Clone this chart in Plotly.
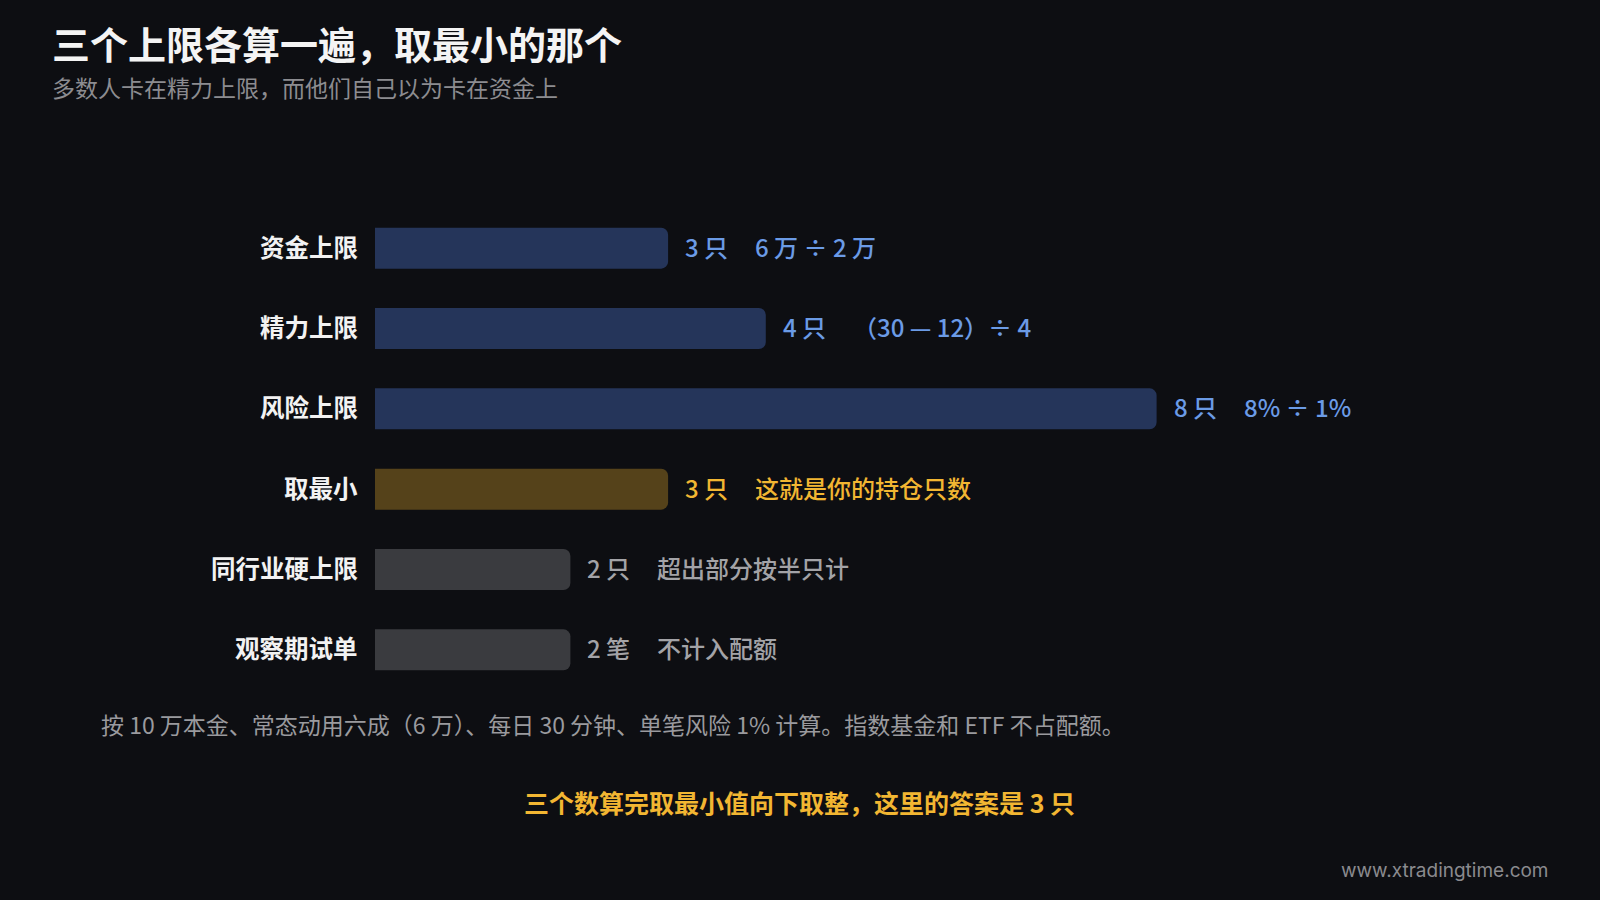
import plotly.graph_objects as go

# ---- data ----
categories = ["资金上限", "精力上限", "风险上限", "取最小", "同行业硬上限", "观察期试单"]
values = [3, 4, 8, 3, 2, 2]
count_labels = ["3 只", "4 只", "8 只", "3 只", "2 只", "2 笔"]
detail_labels = ["6 万 ÷ 2 万", "（30 — 12）÷ 4", "8% ÷ 1%", "这就是你的持仓只数", "超出部分按半只计", "不计入配额"]
groups = ["blue", "blue", "blue", "gold", "gray", "gray"]

title = "三个上限各算一遍，取最小的那个"
subtitle = "多数人卡在精力上限，而他们自己以为卡在资金上"
footnote = "按 10 万本金、常态动用六成（6 万）、每日 30 分钟、单笔风险 1% 计算。指数基金和 ETF 不占配额。"
conclusion = "三个数算完取最小值向下取整，这里的答案是 3 只"
watermark = "www.xtradingtime.com"

# ---- style ----
BG = "#0d0e12"
bar_colors = {"blue": "#25355a", "gold": "#55421a", "gray": "#3a3b3f"}
text_colors = {"blue": "#6b9be6", "gold": "#f2b632", "gray": "#a3a3a7"}
FONT = "Noto Sans CJK SC, Noto Sans, sans-serif"

W_FIG, H_FIG = 1600, 900
L, T = 375, 208
PW, PH = 977, 482
R = W_FIG - L - PW
B = H_FIG - T - PH
YS = 2  # small upward nudge for CJK glyph centering


def px(x):
    return (x - L) / PW


def py(y):
    return 1 - (y - T) / PH


fig = go.Figure()
fig.add_trace(go.Bar(
    x=values, y=categories, orientation="h",
    marker=dict(color=[bar_colors[g] for g in groups], cornerradius=7, line=dict(width=0)),
    width=0.51, hoverinfo="skip",
))

ann = []
for c, v, cl, dl, g in zip(categories, values, count_labels, detail_labels, groups):
    ann.append(dict(x=0, y=c, xref="x", yref="y", text=c, showarrow=False,
                    xanchor="right", xshift=-15, yshift=YS,
                    font=dict(family=FONT, size=24.5, color="#f2f2f2", weight="bold")))
    ann.append(dict(x=v, y=c, xref="x", yref="y", text=cl, showarrow=False,
                    xanchor="left", xshift=15, yshift=YS,
                    font=dict(family=FONT, size=24, color=text_colors[g], weight=500)))
    ann.append(dict(x=v, y=c, xref="x", yref="y", text=dl, showarrow=False,
                    xanchor="left", xshift=15 + 70, yshift=YS,
                    font=dict(family=FONT, size=24, color=text_colors[g], weight=500)))

ann.append(dict(x=px(50), y=py(45), xref="paper", yref="paper", text=title, showarrow=False,
                xanchor="left", yanchor="middle", yshift=YS,
                font=dict(family=FONT, size=38, color="#f4f4f4", weight="bold")))
ann.append(dict(x=px(50), y=py(89), xref="paper", yref="paper", text=subtitle, showarrow=False,
                xanchor="left", yanchor="middle", yshift=YS,
                font=dict(family=FONT, size=23, color="#8c8c90")))
ann.append(dict(x=px(99), y=py(726), xref="paper", yref="paper", text=footnote, showarrow=False,
                xanchor="left", yanchor="middle", yshift=YS,
                font=dict(family=FONT, size=23, color="#9a9a9e")))
ann.append(dict(x=px(799), y=py(804), xref="paper", yref="paper", text=conclusion, showarrow=False,
                xanchor="center", yanchor="middle", yshift=YS,
                font=dict(family=FONT, size=25, color="#f2b632", weight="bold")))
ann.append(dict(x=px(1551), y=py(870), xref="paper", yref="paper", text=watermark, showarrow=False,
                xanchor="right", yanchor="middle",
                font=dict(family="Inter, Noto Sans, sans-serif", size=19, color="#8a8a8e")))

fig.update_layout(
    width=W_FIG, height=H_FIG,
    margin=dict(l=L, r=R, t=T, b=B, autoexpand=False),
    paper_bgcolor=BG, plot_bgcolor=BG,
    showlegend=False,
    xaxis=dict(range=[0, 10], visible=False, fixedrange=True),
    yaxis=dict(autorange=False, range=[5.5, -0.5], type="category", categoryorder="array",
               categoryarray=categories, visible=False, fixedrange=True),
    annotations=ann,
    bargap=0.49,
)

fig.write_html(
    "out.html",
    config={"displayModeBar": False},
    post_script="document.body.style.margin='0';document.body.style.padding='0';"
                "document.body.style.background='" + BG + "';"
                "document.documentElement.style.background='" + BG + "';",
)
